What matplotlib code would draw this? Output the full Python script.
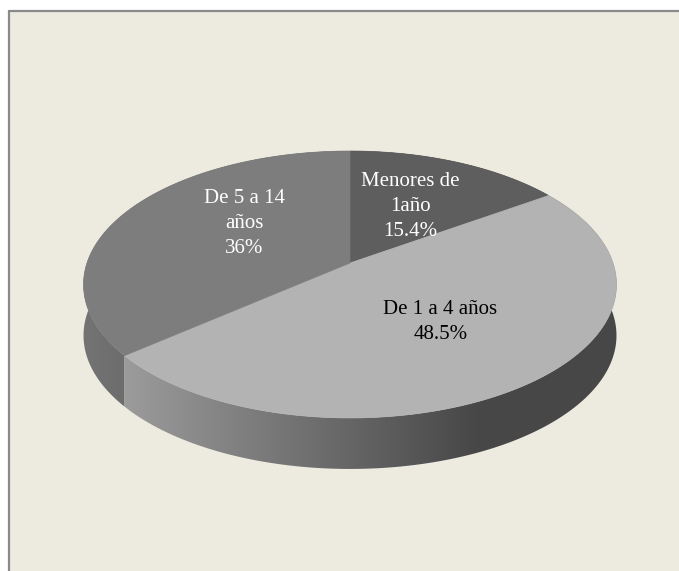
import numpy as np
import matplotlib
matplotlib.use("Agg")
import matplotlib.pyplot as plt
from matplotlib.patches import Polygon, Rectangle

# ==========================================
# DATA
# ==========================================
labels = ["Menores de\n1año", "De 1 a 4 años", "De 5 a 14\naños"]
values = [15.4, 48.5, 36.0]
pct_labels = ["15.4%", "48.5%", "36%"]
top_grays = [0.37, 0.70, 0.49]          # grey level of each slice's top face
text_colors = ["white", "black", "white"]

# ==========================================
# GEOMETRY OF THE 3D PIE (pixel space)
# ==========================================
W, H = 679, 571
CX, CY = 350, 263      # apex of the pie
A, B = 263, 130        # radii of the projected disc
P = 0.161              # perspective strength
D = 51                 # thickness of the pie
LABEL_R = 0.53
LABEL_TURN = [0, 0, 12]  # extra rotation (deg) of each label around the apex

BG = "#edebe0"


def proj(phi, r=1.0):
    # phi measured clockwise from 12 o'clock
    u = r * np.sin(phi)
    v = r * np.cos(phi)
    w = 1 + P * v
    return CX + A * u / w, CY - B * v / w


def side_shade(x):
    # walls get darker from left to right, flat on the far right
    return np.clip(0.92 - 0.52 * (x - (CX - A)) / 390, 0.40, 1)


fig = plt.figure(figsize=(W / 100, H / 100), dpi=100, facecolor=BG)
ax = fig.add_axes([0, 0, 1, 1])
ax.axis("off")

# white margin outside the frame (top and left), grey frame lines
ax.add_patch(Rectangle((-5, -5), W + 10, 15, facecolor="white",
                       edgecolor="none", zorder=0))
ax.add_patch(Rectangle((-5, -5), 13, H + 10, facecolor="white",
                       edgecolor="none", zorder=0))
ax.plot([9, W + 5], [10.5, 10.5], color="#8a8a8a", lw=1.6, zorder=0.5,
        solid_capstyle="butt")
ax.plot([8.5, 8.5], [10, H + 5], color="#8a8a8a", lw=1.6, zorder=0.5,
        solid_capstyle="butt")

total = sum(values)
edges = np.concatenate([[0], np.cumsum(values)]) / total * 2 * np.pi

# draw order for the walls: back slices first, the front one last
order = sorted(range(len(values)),
               key=lambda i: -np.cos((edges[i] + edges[i + 1]) / 2))

xs_grad = np.linspace(CX - A - 10, CX + A + 10, 400)
for i in order:
    phi = np.linspace(edges[i], edges[i + 1], 200)
    x, y = proj(phi)
    wall = np.concatenate([np.c_[x, y], np.c_[x[::-1], y[::-1] + D]])
    patch = Polygon(wall, closed=True, facecolor="none", edgecolor="none")
    ax.add_patch(patch)
    g = np.clip(top_grays[i] * side_shade(xs_grad), 0, 1)
    img = np.dstack([g, g, g])  # shape (1, N, 3)
    im = ax.imshow(img, extent=(xs_grad[0], xs_grad[-1], CY + B * 2 + D, CY - B * 2),
                   aspect="auto", interpolation="bilinear", zorder=1)
    im.set_clip_path(patch)

# top faces
for i in range(len(values)):
    phi = np.linspace(edges[i], edges[i + 1], 200)
    x, y = proj(phi)
    face = np.concatenate([[[CX, CY]], np.c_[x, y]])
    g = top_grays[i]
    ax.add_patch(Polygon(face, closed=True, facecolor=(g, g, g),
                         edgecolor=(g, g, g), linewidth=0.5, zorder=2))

# labels
for i in range(len(values)):
    mid = (edges[i] + edges[i + 1]) / 2 + np.radians(LABEL_TURN[i])
    lx, ly = proj(mid, LABEL_R)
    ax.text(lx, ly, labels[i] + "\n" + pct_labels[i], ha="center", va="center",
            fontsize=15, family="Liberation Serif", color=text_colors[i],
            linespacing=1.45, zorder=3)

ax.set_xlim(0, W)
ax.set_ylim(H, 0)

fig.savefig("out.png", dpi=100, facecolor=fig.get_facecolor())
